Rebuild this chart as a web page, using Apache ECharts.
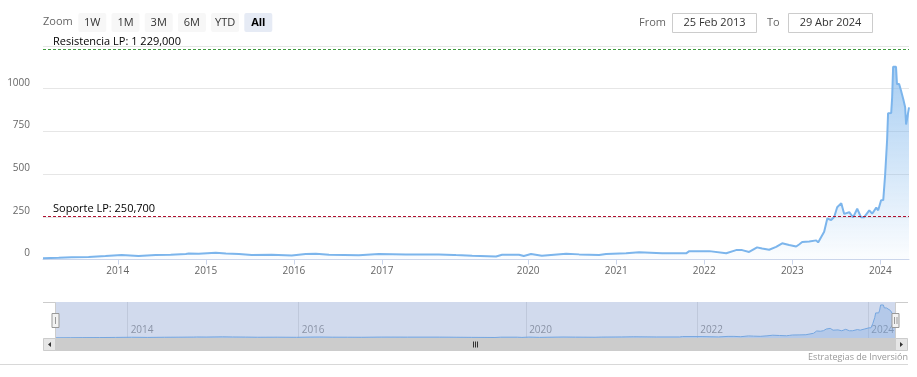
<!DOCTYPE html>
<html><head><meta charset="utf-8">
<script src="https://cdn.jsdelivr.net/npm/echarts@6/dist/echarts.min.js"></script>
<style>html,body{margin:0;padding:0;background:#fff}#c{width:917px;height:377px}</style>
</head><body><div id="c"></div>
<script>
// ---- data ----
const dates = [
'2013-02-25','2013-05-01','2013-06-24','2013-09-02','2013-11-11',
'2014-01-17','2014-03-28','2014-06-07','2014-08-08','2014-10-10','2014-10-22','2014-12-02',
'2015-02-11','2015-03-25','2015-05-18','2015-07-10','2015-10-01','2015-12-23',
'2016-02-19','2016-04-01','2016-05-26','2016-07-27','2016-09-27','2016-12-19',
'2017-04-10','2017-08-24','2017-10-26',
'2019-03-08','2019-05-14','2019-08-21','2019-09-15','2019-11-24','2019-12-14',
'2020-01-13','2020-02-27','2020-06-07','2020-07-31','2020-10-22','2020-11-20',
'2021-02-11','2021-04-06','2021-07-10','2021-10-18','2021-10-31',
'2022-01-22','2022-04-02','2022-05-13','2022-06-07','2022-07-06','2022-08-08','2022-08-29','2022-09-27','2022-10-26','2022-11-20','2022-12-19',
'2023-01-17','2023-01-29','2023-02-11','2023-03-12','2023-04-10','2023-04-18','2023-05-13','2023-05-26','2023-06-11','2023-06-24','2023-07-06','2023-07-23','2023-08-04','2023-08-25','2023-09-10','2023-09-27','2023-10-13','2023-10-26','2023-11-16','2023-11-28','2023-12-15','2023-12-23',
'2024-01-04','2024-01-13','2024-01-21','2024-01-29','2024-02-02','2024-02-15','2024-02-19','2024-02-23','2024-03-06','2024-03-10','2024-03-19','2024-03-27','2024-04-05','2024-04-13','2024-04-17','2024-04-29'
];
const values = [
8,10,13,15,20,
26,20,26,28,32,35,33,
40,35,32,26,28,24,
32,34,28,27,25,32,
30,30,27,
26,22,18,28,28,20,
32,22,34,30,26,32,
36,42,36,36,49,
49,37,55,55,44,71,64,57,74,95,85,
76,88,102,106,112,100,162,240,231,250,306,330,267,277,247,297,247,248,288,268,304,288,
347,348,500,700,856,858,950,1128,1128,1027,1027,988,940,891,790,891
];
const mainTickYears = [2014,2015,2016,2017,2020,2021,2022,2023,2024];
const navTickYears = [2014,2016,2020,2022,2024];
const yMin = 0, yMax = 1250, yStep = 250;
const resistance = 1229;
const support = 250.7;
const resistanceLabel = 'Resistencia LP: 1 229,000';
const supportLabel = 'Soporte LP: 250,700';
const rangeButtons = ['1W','1M','3M','6M','YTD','All'];
const fromText = '25 Feb 2013', toText = '29 Abr 2024';
const creditText = 'Estrategias de Inversión';
// missing-data period (ordinal axis skips it)
const gapStart = 2017.83, gapEnd = 2019.17;

// ---- helpers ----
function decYear(s){const p=s.split('-').map(Number);const a=Date.UTC(p[0],0,1),b=Date.UTC(p[0]+1,0,1);return p[0]+(Date.UTC(p[0],p[1]-1,p[2])-a)/(b-a);}
function ord(t){return t>=gapEnd?t-(gapEnd-gapStart):t;}
const pts = dates.map((d,i)=>[ord(decYear(d)), values[i]]);
const xMin = pts[0][0], xMax = pts[pts.length-1][0];
const mainTicks = mainTickYears.map(ord);
const navTicks = navTickYears.map(ord);
function fmt(ticks, years){return v=>{const i=ticks.findIndex(t=>Math.abs(t-v)<1e-6);return i>=0?String(years[i]):'';};}

const FONT = '"Open Sans", sans-serif';
const chart = echarts.init(document.getElementById('c'), null, {renderer:'canvas'});

const g = [];
g.push({type:'text', left:43, top:16, style:{text:'Zoom', fill:'#666', font:'11px '+FONT}});
rangeButtons.forEach((b,i)=>{
  const x = 78.3 + i*33.2, sel = b==='All';
  g.push({type:'rect', shape:{x:x,y:13,width:28,height:19,r:2}, style:{fill: sel?'#e6ebf5':'#f7f7f7'}});
  g.push({type:'text', x:x+14, y:22.5, style:{text:b, fill: sel?'#000':'#333', font:(sel?'bold ':'')+'11px '+FONT, align:'center', verticalAlign:'middle'}});
});
g.push({type:'text', x:639, y:22.5, style:{text:'From', fill:'#666', font:'11px '+FONT, verticalAlign:'middle'}});
g.push({type:'rect', shape:{x:672.5,y:13.5,width:84,height:19}, style:{fill:'#fff', stroke:'#ccc', lineWidth:1}});
g.push({type:'text', x:714.5, y:23, style:{text:fromText, fill:'#333', font:'11px '+FONT, align:'center', verticalAlign:'middle'}});
g.push({type:'text', x:767, y:22.5, style:{text:'To', fill:'#666', font:'11px '+FONT, verticalAlign:'middle'}});
g.push({type:'rect', shape:{x:788.5,y:13.5,width:84,height:19}, style:{fill:'#fff', stroke:'#ccc', lineWidth:1}});
g.push({type:'text', x:830.5, y:23, style:{text:toText, fill:'#333', font:'11px '+FONT, align:'center', verticalAlign:'middle'}});
// navigator mask + outline + handles
g.push({type:'rect', z:100, shape:{x:55,y:302,width:841,height:36}, style:{fill:'rgba(102,133,194,0.3)'}});
g.push({type:'polyline', z:101, shape:{points:[[43,302.5],[55.5,302.5],[55.5,338.5],[895.5,338.5],[895.5,302.5],[908,302.5]]}, style:{stroke:'#cccccc', fill:null, lineWidth:1}});
[55.5,895.5].forEach((hx,k)=>{
  g.push({type:'rect', z:102, shape:{x:hx-3.5,y:313.5,width:7,height:14}, style:{fill:'#f2f2f2', stroke:'#999', lineWidth:1}});
  if(k===0){g.push({type:'line', z:103, shape:{x1:hx,y1:317,x2:hx,y2:324}, style:{stroke:'#999',lineWidth:1}});}
  else{g.push({type:'line', z:103, shape:{x1:hx-1,y1:317,x2:hx-1,y2:324}, style:{stroke:'#999',lineWidth:1}});
       g.push({type:'line', z:103, shape:{x1:hx+1.5,y1:317,x2:hx+1.5,y2:324}, style:{stroke:'#999',lineWidth:1}});}
});
// scrollbar
g.push({type:'rect', z:100, shape:{x:43,y:338,width:865,height:13}, style:{fill:'#f2f2f2'}});
g.push({type:'rect', z:101, shape:{x:55,y:338,width:841,height:13}, style:{fill:'#cccccc'}});
g.push({type:'rect', z:101, shape:{x:43.5,y:338.5,width:12,height:12}, style:{fill:'#e6e6e6', stroke:'#cccccc', lineWidth:1}});
g.push({type:'rect', z:101, shape:{x:895.5,y:338.5,width:12,height:12}, style:{fill:'#e6e6e6', stroke:'#cccccc', lineWidth:1}});
g.push({type:'polygon', z:102, shape:{points:[[48,344.5],[51,342],[51,347]]}, style:{fill:'#333'}});
g.push({type:'polygon', z:102, shape:{points:[[903,344.5],[900,342],[900,347]]}, style:{fill:'#333'}});
[473.5,475.5,477.5].forEach(lx=>g.push({type:'line', z:102, shape:{x1:lx,y1:341.5,x2:lx,y2:347.5}, style:{stroke:'#333',lineWidth:1}}));
// bottom rule and credit
g.push({type:'line', shape:{x1:0,y1:364.5,x2:908,y2:364.5}, style:{stroke:'#d8d8d8', lineWidth:1}});
g.push({type:'text', x:908, y:357, style:{text:creditText, fill:'#999', font:'9px '+FONT, align:'right', verticalAlign:'middle'}});

const option = {
  animation:false,
  textStyle:{fontFamily:FONT},
  grid:[
    {left:43, right:8, top:46, bottom:117.5},
    {left:55, right:21, top:302, bottom:39}
  ],
  xAxis:[
    {type:'value', gridIndex:0, min:xMin, max:xMax,
     axisLine:{lineStyle:{color:'#ccd6eb'}},
     axisTick:{customValues:mainTicks, length:5, lineStyle:{color:'#ccd6eb'}},
     axisLabel:{customValues:mainTicks, formatter:fmt(mainTicks,mainTickYears), color:'#666', fontSize:10, margin:7},
     splitLine:{show:false}},
    {type:'value', gridIndex:1, min:xMin, max:xMax,
     axisLine:{show:false},
     axisTick:{customValues:navTicks, inside:true, length:36, lineStyle:{color:'#e6e6e6'}},
     axisLabel:{customValues:navTicks, formatter:fmt(navTicks,navTickYears), inside:true, align:'left', padding:[0,0,0,3], color:'#999', fontSize:10, margin:3},
     splitLine:{show:false}}
  ],
  yAxis:[
    {type:'value', gridIndex:0, min:yMin, max:yMax, interval:yStep,
     axisLine:{show:false}, axisTick:{show:false},
     axisLabel:{showMaxLabel:false, formatter:v=>String(v), color:'#666', fontSize:10, margin:13, verticalAlign:'bottom', padding:[0,0,1,0]},
     splitLine:{lineStyle:{color:'#e6e6e6'}}},
    {type:'value', gridIndex:1, min:0, max:v=>v.max*1.09, show:false}
  ],
  series:[
    {type:'line', xAxisIndex:0, yAxisIndex:0, data:pts, symbol:'none', silent:true,
     lineStyle:{color:'#7cb5ec', width:2}, itemStyle:{color:'#7cb5ec'},
     areaStyle:{color:{type:'linear',x:0,y:0,x2:0,y2:1,colorStops:[{offset:0,color:'rgba(124,181,236,0.95)'},{offset:1,color:'rgba(124,181,236,0.04)'}]}},
     markLine:{symbol:'none', silent:true, animation:false,
       label:{position:'insideStartTop', distance:[10,2], color:'#000', fontSize:11, fontFamily:FONT},
       data:[
         {yAxis:resistance, lineStyle:{color:'#3c9a3c', type:[3,2], width:1, opacity:1}, label:{formatter:resistanceLabel}},
         {yAxis:support, lineStyle:{color:'#b01030', type:[3,2], width:1, opacity:1}, label:{formatter:supportLabel}}
       ]}
    },
    {type:'line', xAxisIndex:1, yAxisIndex:1, data:pts, symbol:'none', silent:true,
     lineStyle:{color:'#7cb5ec', width:1},
     areaStyle:{color:'rgba(124,181,236,0.45)'}}
  ],
  graphic:g
};
chart.setOption(option);
</script>
</body></html>
